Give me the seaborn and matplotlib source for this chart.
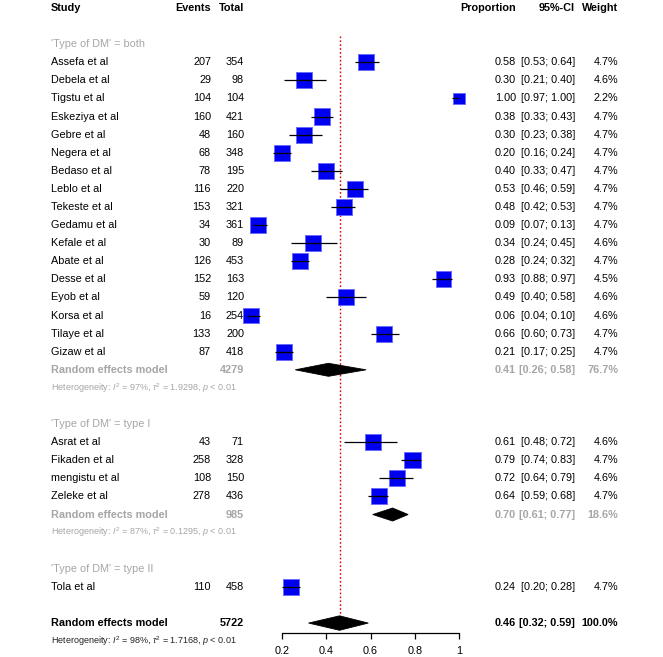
import numpy as np
import pandas as pd
import matplotlib
matplotlib.use("Agg")
import matplotlib.pyplot as plt
import matplotlib.transforms as mtransforms
from matplotlib.patches import Polygon
import seaborn as sns

# ---------------- datos ----------------
grupos = ["both", "type I", "type II"]

estudios_both = ["Assefa et al", "Debela et al", "Tigstu et al", "Eskeziya et al", "Gebre et al",
                 "Negera et al", "Bedaso et al", "Leblo et al", "Tekeste et al", "Gedamu et al",
                 "Kefale et al", "Abate et al", "Desse et al", "Eyob et al", "Korsa et al",
                 "Tilaye et al", "Gizaw et al"]
eventos_both = [207, 29, 104, 160, 48, 68, 78, 116, 153, 34, 30, 126, 152, 59, 16, 133, 87]
total_both = [354, 98, 104, 421, 160, 348, 195, 220, 321, 361, 89, 453, 163, 120, 254, 200, 418]
prop_both = [0.58, 0.30, 1.00, 0.38, 0.30, 0.20, 0.40, 0.53, 0.48, 0.09, 0.34, 0.28, 0.93, 0.49, 0.06, 0.66, 0.21]
lo_both = [0.53, 0.21, 0.97, 0.33, 0.23, 0.16, 0.33, 0.46, 0.42, 0.07, 0.24, 0.24, 0.88, 0.40, 0.04, 0.60, 0.17]
hi_both = [0.64, 0.40, 1.00, 0.43, 0.38, 0.24, 0.47, 0.59, 0.53, 0.13, 0.45, 0.32, 0.97, 0.58, 0.10, 0.73, 0.25]
peso_both = [4.7, 4.6, 2.2, 4.7, 4.7, 4.7, 4.7, 4.7, 4.7, 4.7, 4.6, 4.7, 4.5, 4.6, 4.6, 4.7, 4.7]

estudios_t1 = ["Asrat et al", "Fikaden et al", "mengistu et al", "Zeleke et al"]
eventos_t1 = [43, 258, 108, 278]
total_t1 = [71, 328, 150, 436]
prop_t1 = [0.61, 0.79, 0.72, 0.64]
lo_t1 = [0.48, 0.74, 0.64, 0.59]
hi_t1 = [0.72, 0.83, 0.79, 0.68]
peso_t1 = [4.6, 4.7, 4.6, 4.7]

estudios_t2 = ["Tola et al"]
eventos_t2 = [110]
total_t2 = [458]
prop_t2 = [0.24]
lo_t2 = [0.20]
hi_t2 = [0.28]
peso_t2 = [4.7]

# modelos de efectos aleatorios por subgrupo (None = un solo estudio)
re_total = [4279, 985, None]
re_est = [0.41, 0.70, None]
re_lo = [0.26, 0.61, None]
re_hi = [0.58, 0.77, None]
re_peso = [76.7, 18.6, None]
re_het = [(97, 1.9298), (87, 0.1295), None]

# modelo global
global_total = 5722
global_est, global_lo, global_hi = 0.46, 0.32, 0.59
global_het = (98, 1.7168)

ticks = [0.2, 0.4, 0.6, 0.8, 1.0]
tick_labels = ["0.2", "0.4", "0.6", "0.8", "1"]

# ---------------- estructura ----------------
bloques = [
    (estudios_both, eventos_both, total_both, prop_both, lo_both, hi_both, peso_both),
    (estudios_t1, eventos_t1, total_t1, prop_t1, lo_t1, hi_t1, peso_t1),
    (estudios_t2, eventos_t2, total_t2, prop_t2, lo_t2, hi_t2, peso_t2),
]

filas = []
fila = 2
etiquetas_grupo = []
resumen_grupo = []
for g, (est, ev, tot, p, lo, hi, w) in enumerate(bloques):
    etiquetas_grupo.append((fila, grupos[g]))
    for i in range(len(est)):
        filas.append(dict(study=est[i], events=ev[i], total=tot[i], prop=p[i],
                          lo=lo[i], hi=hi[i], peso=w[i], fila=fila + 1 + i))
    fila = fila + 1 + len(est)
    if re_est[g] is not None:
        resumen_grupo.append((fila, g))
        fila += 3
    else:
        fila += 1
fila_global = fila
df = pd.DataFrame(filas)

# ---------------- figura ----------------
sns.set_theme(style="white")
plt.rcParams["font.family"] = ["Liberation Sans", "DejaVu Sans"]
plt.rcParams["mathtext.fontset"] = "custom"
plt.rcParams["mathtext.rm"] = "Liberation Sans"
plt.rcParams["mathtext.it"] = "Liberation Sans:italic"

W, H = 663, 657
fig = plt.figure(figsize=(W / 100, H / 100), dpi=100)
x0, x1 = 237.75, 459.0          # pixeles de 0 y 1
y_top, paso = 8.0, 18.09        # pixel de la fila 0 y alto de fila
ax = fig.add_axes([x0 / W, 0, (x1 - x0) / W, 1])
ax.set_xlim(0, 1)
ax.set_ylim((H - y_top) / paso, -y_top / paso)
ax.patch.set_alpha(0)

gris = "#a6a6a6"
fs = 7.8
fs_het = 6.5
tr = mtransforms.blended_transform_factory(fig.transFigure, ax.transData)
col = {"study": 51 / W, "events": 211 / W, "total": 244 / W,
       "prop": 516 / W, "ci": 575 / W, "peso": 618 / W}


def txt(x, y, s, ha="left", color="black", bold=False, size=fs):
    ax.text(x, y, s, transform=tr, ha=ha, va="center", color=color, fontsize=size,
            fontweight="bold" if bold else "normal")


def fila_texto(y, study, events, total, p, lo, hi, peso, color="black", bold=False):
    txt(col["study"], y, study, color=color, bold=bold)
    if events != "":
        txt(col["events"], y, str(events), ha="right", color=color, bold=bold)
    txt(col["total"], y, str(total), ha="right", color=color, bold=bold)
    txt(col["prop"], y, f"{p:.2f}", ha="right", color=color, bold=bold)
    txt(col["ci"], y, f"[{lo:.2f}; {hi:.2f}]", ha="right", color=color, bold=bold)
    txt(col["peso"], y, f"{peso:.1f}%", ha="right", color=color, bold=bold)


def het_texto(y, i2, tau2, color):
    txt(col["study"], y, rf"Heterogeneity: $I^2$ = {i2}%, $\tau^2$ = {tau2:.4f}, $p$ < 0.01",
        color=color, size=fs_het)


def diamante(y, est, lo, hi, h=0.36):
    ax.add_patch(Polygon([(lo, y), (est, y - h), (hi, y), (est, y + h)], closed=True,
                         facecolor="black", edgecolor="black", lw=0.6, clip_on=False, zorder=3))


# cabecera
for k, s, ha in [("study", "Study", "left"), ("events", "Events", "right"), ("total", "Total", "right"),
                 ("prop", "Proportion", "right"), ("ci", "95%-CI", "right"), ("peso", "Weight", "right")]:
    txt(col[k], 0, s, ha=ha, bold=True)

# etiquetas de subgrupo
for y, g in etiquetas_grupo:
    txt(col["study"], y, f"'Type of DM' = {g}", color=gris)

# estudios
for _, r in df.iterrows():
    fila_texto(r["fila"], r["study"], r["events"], r["total"], r["prop"], r["lo"], r["hi"], r["peso"])

# linea de referencia
ax.vlines(global_est, 1.55, fila_global - 0.35, colors="#dd0000", linestyles=(0, (1.2, 1.6)), lw=1.0, zorder=1)

# cuadrados
sns.scatterplot(x=df["prop"], y=df["fila"], marker="s", s=(11.6 ** 2) * df["peso"] / 4.7,
                color="#0000f0", edgecolor="#6b6bff", linewidth=0.7, ax=ax, zorder=2,
                clip_on=False, legend=False)
ax.hlines(df["fila"], df["lo"], df["hi"], colors="black", lw=0.9, zorder=4, clip_on=False)

# resumen por subgrupo
for y, g in resumen_grupo:
    fila_texto(y, "Random effects model", "", re_total[g], re_est[g], re_lo[g], re_hi[g], re_peso[g],
               color=gris, bold=True)
    diamante(y, re_est[g], re_lo[g], re_hi[g])
    het_texto(y + 1, re_het[g][0], re_het[g][1], gris)

# resumen global
fila_texto(fila_global, "Random effects model", "", global_total, global_est, global_lo, global_hi, 100.0,
           bold=True)
diamante(fila_global, global_est, global_lo, global_hi, h=0.4)
het_texto(fila_global + 1, global_het[0], global_het[1], "#222222")

# eje x
for s in ["top", "right", "left"]:
    ax.spines[s].set_visible(False)
ax.spines["bottom"].set_position(("data", fila_global + 0.55))
ax.spines["bottom"].set_bounds(0.2, 1.0)
ax.spines["bottom"].set_color("black")
ax.spines["bottom"].set_linewidth(0.9)
ax.set_xticks(ticks)
ax.set_xticklabels(tick_labels, fontsize=fs)
ax.tick_params(axis="x", direction="out", length=4, width=0.9, pad=5, colors="black", bottom=True)
ax.set_yticks([])
ax.set_xlabel("")
ax.set_ylabel("")

fig.savefig("out.png", dpi=100)
